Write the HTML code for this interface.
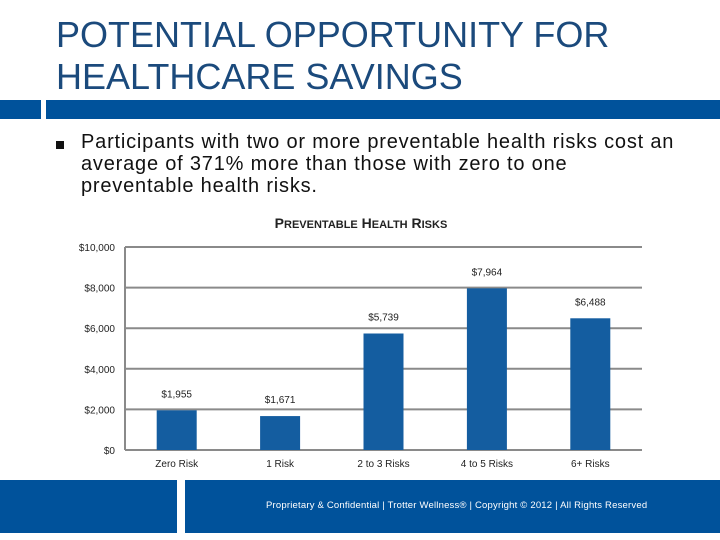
<!DOCTYPE html>
<html><head><meta charset="utf-8"><style>
body{margin:0;width:720px;height:540px;background:#fff;font-family:"Liberation Sans",sans-serif;position:relative;overflow:hidden}
.abs{position:absolute}
</style></head><body>
<div class="abs" style="left:56px;top:14px;font-size:36px;line-height:42px;color:#1b4a7c">POTENTIAL OPPORTUNITY FOR<br>HEALTHCARE SAVINGS</div>
<div class="abs" style="left:0;top:100px;width:41px;height:19px;background:#00529b"></div>
<div class="abs" style="left:46px;top:100px;width:674px;height:19px;background:#00529b"></div>
<div class="abs" style="left:56px;top:141px;width:8px;height:8px;background:#111"></div>
<div class="abs" style="left:81px;top:131px;white-space:nowrap;font-size:20px;letter-spacing:0.8px;line-height:22px;color:#111">Participants with two or more preventable health risks cost an<br>average of 371% more than those with zero to one<br>preventable health risks.</div>
<div class="abs" style="left:200px;width:322px;text-align:center;top:215px;font-size:14px;font-weight:bold;color:#222">P<span style="font-size:11px">REVENTABLE</span> H<span style="font-size:11px">EALTH</span> R<span style="font-size:11px">ISKS</span></div>
<svg class="abs" style="left:0;top:0" width="720" height="540" id="chart"></svg>
<div class="abs" style="left:0;top:480px;width:177px;height:53px;background:#00529b"></div>
<div class="abs" style="left:185px;top:480px;width:535px;height:53px;background:#00529b"></div>
<div class="abs" style="left:266px;top:500px;font-size:9.5px;letter-spacing:0.2px;color:#fff">Proprietary &amp; Confidential | Trotter Wellness® | Copyright © 2012 | All Rights Reserved</div>
<script>
const categories=["Zero Risk","1 Risk","2 to 3 Risks","4 to 5 Risks","6+ Risks"];
const values=[1955,1671,5739,7964,6488];
const valueLabels=["$1,955","$1,671","$5,739","$7,964","$6,488"];
const ticks=[0,2000,4000,6000,8000,10000];
const tickLabels=["$0","$2,000","$4,000","$6,000","$8,000","$10,000"];
const svg=document.getElementById('chart');const NS="http://www.w3.org/2000/svg";
const x0=125,x1=642,y0=450,y1=247,ymax=10000;
const y=v=>y0-(v/ymax)*(y0-y1);
const bw=(x1-x0)/categories.length;
const xc=i=>x0+bw*(i+0.5);
function mk(t,a,txt){const e=document.createElementNS(NS,t);for(const k in a)e.setAttribute(k,a[k]);if(txt!=null)e.textContent=txt;svg.appendChild(e);return e;}
const F='"Liberation Sans",sans-serif';
ticks.forEach((t,i)=>{
 const l=mk('line',{x1:x0,x2:x1,y1:y(t),y2:y(t),stroke:'#8a8a8a','stroke-width':2});
 
 
 const tx=mk('text',{x:x0-10,y:y(t)+4,'text-anchor':'end','font-size':10,'font-family':F,fill:'#222'},tickLabels[i]);
 
 
});
mk('line',{x1:x0,x2:x0,y1:y1,y2:y0,stroke:'#8a8a8a','stroke-width':2});
categories.forEach((c,i)=>{
 const r=mk('rect',{x:xc(i)-20,y:y(values[i]),width:40,height:y0-y(values[i]),fill:'#145da0'});
 
 
 const vl=mk('text',{x:xc(i),y:y(values[i])-13,'text-anchor':'middle','font-size':10,'font-family':F,fill:'#222'},valueLabels[i]);
 
 
 const cl=mk('text',{x:xc(i),y:467,'text-anchor':'middle','font-size':10,'font-family':F,fill:'#222'},c);
 
 
});
</script>
</body></html>
